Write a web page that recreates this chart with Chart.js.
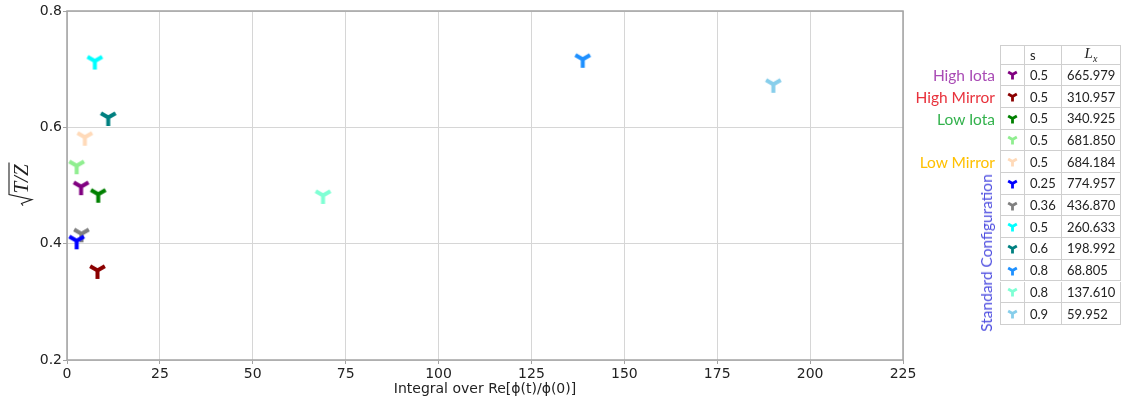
<!DOCTYPE html>
<html>
<head>
<meta charset="utf-8">
<script src="https://cdn.jsdelivr.net/npm/chart.js@4/dist/chart.umd.min.js"></script>
<style>
  html, body { margin: 0; padding: 0; background: #fff; }
  #wrap { position: relative; width: 1124px; height: 405px; overflow: hidden; }
  #plot { position: absolute; left: 0; top: 0; }
  .tag { position: absolute; font-family: Lato, "Open Sans", sans-serif; font-size: 15.5px;
         line-height: 22px; white-space: nowrap; text-align: right; }
  #std { position: absolute; left: 985.5px; top: 253px; transform: translate(-50%, -50%) rotate(-90deg);
         font-family: Lato, "Open Sans", sans-serif; font-size: 15.5px; color: #4f4fe0; white-space: nowrap; }
  .cell { position: absolute; box-sizing: border-box; border-right: 1px solid #cfcfcf; border-bottom: 1px solid #cfcfcf;
          font-family: Lato, "Open Sans", sans-serif; font-size: 13px; color: #222; white-space: nowrap;
          display: flex; align-items: center; padding-left: 5px; }
  .cell.ic { justify-content: center; padding-left: 0; }
  .lx { font-family: "Liberation Serif", "DejaVu Serif", serif; font-style: italic; font-size: 15px; }
  .lx sub { font-size: 10px; }
</style>
</head>
<body>
<div id="wrap">
  <canvas id="plot" width="1124" height="405"></canvas>
  <div id="tags"></div>
  <div id="std">Standard Configuration</div>
  <div id="tbl"></div>
</div>
<script>
// Configurations, in table order
const configNames = ['High Iota', 'High Mirror', 'Low Iota', '', 'Low Mirror',
                     'Standard', 'Standard', 'Standard', 'Standard', 'Standard', 'Standard', 'Standard'];
const sValues = ['0.5', '0.5', '0.5', '0.5', '0.5', '0.25', '0.36', '0.5', '0.6', '0.8', '0.8', '0.9'];
const lxValues = ['665.979', '310.957', '340.925', '681.850', '684.184', '774.957',
                  '436.870', '260.633', '198.992', '68.805', '137.610', '59.952'];
// Integral over Re[phi(t)/phi(0)]
const integralValues = [3.8, 8.2, 8.4, 2.6, 4.8, 2.6, 3.9, 7.5, 11.1, 138.8, 68.9, 190.1];
// sqrt(T/Z)
const sqrtTZValues = [0.498, 0.354, 0.485, 0.534, 0.583, 0.405, 0.417, 0.714, 0.617, 0.717, 0.483, 0.674];
const markerColors = ['#800080', '#8b0000', '#008000', '#90ee90', '#ffdab9', '#0000ff',
                      '#808080', '#00ffff', '#008080', '#1e90ff', '#7fffd4', '#87ceeb'];
const xTicks = [0, 25, 50, 75, 100, 125, 150, 175, 200, 225];
const yTicks = [0.2, 0.4, 0.6, 0.8];

// Group labels beside the table (row index -> text, colour)
const groupTags = [
  { row: 0, text: 'High Iota', color: '#a94bb5' },
  { row: 1, text: 'High Mirror', color: '#e8323c' },
  { row: 2, text: 'Low Iota', color: '#33b24d' },
  { row: 4, text: 'Low Mirror', color: '#ffc000' }
];

// Draw a "tri_down" (Y-shaped) marker into a small canvas
function triMarker(color, r, lw) {
  const size = Math.ceil(2 * r + lw + 2);
  const c = document.createElement('canvas');
  c.width = size; c.height = size;
  const g = c.getContext('2d');
  const cx = size / 2, cy = size / 2;
  g.strokeStyle = color;
  g.lineWidth = lw;
  g.lineCap = 'butt';
  g.beginPath();
  g.moveTo(cx, cy); g.lineTo(cx, cy + r);
  g.moveTo(cx, cy); g.lineTo(cx - 0.866 * r, cy - 0.5 * r);
  g.moveTo(cx, cy); g.lineTo(cx + 0.866 * r, cy - 0.5 * r);
  g.stroke();
  return c;
}

// Table of configurations: columns marker | s | Lx
const tbl = document.getElementById('tbl');
const colX = [1000, 1025, 1062, 1121];
const headTop = 45, headH = 19.5, rowH = 21.7;
const border = document.createElement('div');
border.style.cssText = 'position:absolute;box-sizing:border-box;border-left:1px solid #cfcfcf;border-top:1px solid #cfcfcf;' +
  'left:' + colX[0] + 'px;top:' + headTop + 'px;width:' + (colX[3] - colX[0]) + 'px;height:1px;';
tbl.appendChild(border);
function cell(col, top, h, content, cls) {
  const d = document.createElement('div');
  d.className = 'cell' + (cls ? ' ' + cls : '');
  d.style.left = colX[col] + 'px';
  d.style.width = (colX[col + 1] - colX[col]) + 'px';
  d.style.top = top + 'px';
  d.style.height = h + 'px';
  if (col === 0) d.style.borderLeft = '1px solid #cfcfcf';
  if (top === headTop) d.style.borderTop = '1px solid #cfcfcf';
  if (typeof content === 'string') d.innerHTML = content; else if (content) d.appendChild(content);
  tbl.appendChild(d);
  return d;
}
cell(0, headTop, headH, '', 'ic');
cell(1, headTop, headH, 's');
const lxHead = cell(2, headTop, headH, '<span class="lx">L<sub>x</sub></span>');
lxHead.style.justifyContent = 'center'; lxHead.style.paddingLeft = '0';
const rowTop = [];
for (let i = 0; i < sValues.length; i++) {
  const top = headTop + headH + i * rowH;
  rowTop.push(top);
  cell(0, top, rowH, triMarker(markerColors[i], 5, 2.8), 'ic');
  cell(1, top, rowH, sValues[i]);
  cell(2, top, rowH, lxValues[i]);
}
const tags = document.getElementById('tags');
groupTags.forEach(t => {
  const d = document.createElement('div');
  d.className = 'tag';
  d.textContent = t.text;
  d.style.color = t.color;
  d.style.right = (1124 - 995) + 'px';
  d.style.top = (rowTop[t.row] + rowH / 2 - 11) + 'px';
  tags.appendChild(d);
});

// Frame around the plotting area, drawn under the markers
const framePlugin = {
  id: 'frame',
  beforeDatasetsDraw(chart) {
    const { ctx, chartArea: a } = chart;
    ctx.save();
    ctx.strokeStyle = '#a3a3a3';
    ctx.lineWidth = 1.5;
    ctx.strokeRect(a.left, a.top, a.right - a.left, a.bottom - a.top);
    ctx.restore();
  }
};

// Rotated y-axis title: square root of T/Z
const yTitlePlugin = {
  id: 'yTitle',
  afterDraw(chart) {
    const ctx = chart.ctx;
    ctx.save();
    ctx.translate(21, 185);
    ctx.rotate(-Math.PI / 2);
    ctx.fillStyle = '#222';
    ctx.strokeStyle = '#222';
    ctx.font = 'italic 21px "Liberation Serif", "DejaVu Serif", serif';
    ctx.textBaseline = 'alphabetic';
    ctx.textAlign = 'left';
    const txt = 'T/Z';
    const w = ctx.measureText(txt).width;
    const x0 = -w / 2 + 6;
    ctx.fillText(txt, x0, 7);
    ctx.lineWidth = 1.1;
    ctx.beginPath();
    ctx.moveTo(x0 - 12, 2);
    ctx.lineTo(x0 - 10, 0.5);
    ctx.lineTo(x0 - 6, 11);
    ctx.lineTo(x0 - 1, -12);
    ctx.lineTo(x0 + w + 2, -12);
    ctx.stroke();
    ctx.restore();
  }
};

const datasets = integralValues.map((xv, i) => ({
  label: configNames[i] + ' s=' + sValues[i],
  data: [{ x: xv, y: sqrtTZValues[i] }],
  pointStyle: triMarker(markerColors[i], 8.5, 4),
  pointRadius: 10,
  showLine: false,
  clip: false
}));

const tickFont = { family: 'DejaVu Sans', size: 14 };

new Chart(document.getElementById('plot'), {
  type: 'scatter',
  data: { datasets },
  options: {
    responsive: false,
    animation: false,
    events: [],
    layout: { padding: { left: 0, top: 10, right: 221, bottom: 0 } },
    plugins: { legend: { display: false }, tooltip: { enabled: false } },
    scales: {
      x: {
        type: 'linear', min: 0, max: 225,
        afterBuildTicks: s => { s.ticks = xTicks.map(v => ({ value: v })); },
        afterFit: s => { s.height = 45; },
        border: { display: false },
        grid: { color: '#d6d6d6', lineWidth: 1, tickColor: '#a3a3a3', tickLength: 4 },
        ticks: { font: tickFont, color: '#222', padding: 2, maxRotation: 0, autoSkip: false,
                 callback: v => String(v) },
        title: { display: true, text: 'Integral over Re[ϕ(t)/ϕ(0)]', font: tickFont, color: '#222',
                 padding: { top: 0, bottom: 7 } }
      },
      y: {
        type: 'linear', min: 0.2, max: 0.8,
        afterBuildTicks: s => { s.ticks = yTicks.map(v => ({ value: v })); },
        afterFit: s => { s.width = 67; },
        border: { display: false },
        grid: { color: '#d6d6d6', lineWidth: 1, tickColor: '#a3a3a3', tickLength: 4 },
        ticks: { font: tickFont, color: '#222', padding: 1, autoSkip: false,
                 callback: v => v.toFixed(1) }
      }
    }
  },
  plugins: [framePlugin, yTitlePlugin]
});
</script>
</body>
</html>
